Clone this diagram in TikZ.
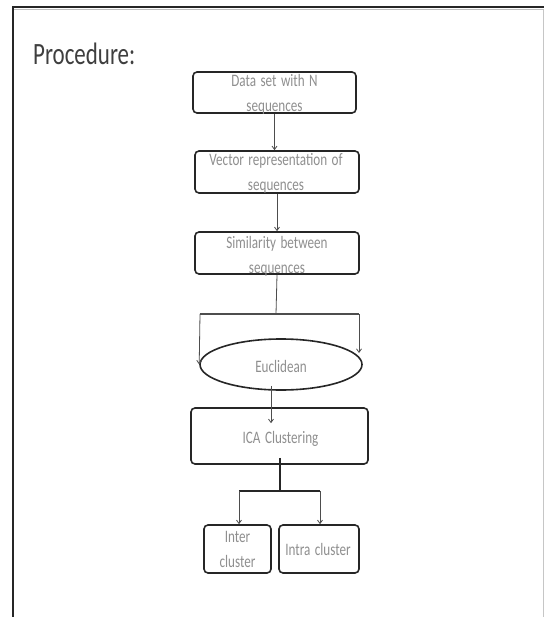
\documentclass[tikz,border=0pt]{standalone}
\usepackage{fontspec}
\setmainfont{Carlito}
\newfontfamily\cf[FakeStretch=0.75,WordSpace=1.5]{Carlito}
\newfontfamily\cft[FakeStretch=0.74]{Carlito}
\usetikzlibrary{shapes.geometric,arrows.meta,calc}
\definecolor{edgec}{HTML}{262626}
\definecolor{linec}{HTML}{4d4d4d}
\definecolor{txtc}{HTML}{8f8f8f}
\definecolor{titc}{HTML}{3f3f3f}
\tikzset{
  boxn/.style={draw=edgec,line width=1.6pt,rounded corners=4pt,inner sep=0pt,fill=none},
  ellnode/.style={ellipse,draw=edgec,line width=1.6pt,inner sep=0pt},
  txt/.style={align=center,inner sep=0pt,text=txtc,font=\cf\fontsize{17.5}{25}\selectfont},
  conn/.style={draw=linec,line width=0.8pt},
  arr/.style={conn,-{Straight Barb[length=3.5pt,width=5pt]}},
  thick conn/.style={draw=edgec,line width=1.6pt}
}
\begin{document}
\begin{tikzpicture}[x=1pt,y=-1pt]
\useasboundingbox (0,0) rectangle (544,617);
\fill[white] (0,0) rectangle (544,617);
% frame
\draw[gray!45,line width=1pt] (543,9) -- (543,617);
\draw[gray!50,line width=1pt] (14,9.5) -- (544,9.5);
\draw[edgec,line width=2pt] (13,617) -- (13,7.5) -- (544,7.5);
% title
\node[anchor=base west,inner sep=0pt,text=titc,font=\cft\fontsize{31}{36}\selectfont] (title) at (33,65) {Procedure:};
% boxes
\node[boxn,minimum width=163pt,minimum height=41pt] (b1) at (274.5,92.5) {};
\node[txt] (t1) at (274.5,94.5) {Data set with N\\sequences};
\node[boxn,minimum width=164pt,minimum height=42pt] (b2) at (277,172) {};
\node[txt] (t2) at (276,173.5) {Vector representation of\\sequences};
\node[boxn,minimum width=164pt,minimum height=42pt] (b3) at (277,253) {};
\node[txt] (t3) at (277,256.5) {Similarity between\\sequences};
\node[ellnode,minimum width=162pt,minimum height=51pt] (euc) at (281,364.5) {};
\node[txt] (te) at (281,366) {Euclidean};
\node[boxn,minimum width=177pt,minimum height=56pt] (ica) at (279.5,436) {};
\node[txt] (ti) at (280.5,438.5) {ICA Clustering};
\node[boxn,minimum width=67pt,minimum height=48pt] (inter) at (237.5,549) {};
\node[txt] (tin) at (237.5,549) {Inter\\cluster};
\node[boxn,minimum width=80pt,minimum height=48pt] (intra) at (319,549) {};
\node[txt] (tit) at (318,549) {Intra cluster};
% connectors
\draw[arr] (b1.south) -- (b1.south |- b2.north);
\draw[arr] (b2.south) -- (b3.north);
\coordinate (sp) at (276,314);
\coordinate (spl) at (200,314);
\coordinate (spr) at (359,314);
\coordinate (er) at (359,353);
\draw[conn] (b3.south) -- (sp);
\draw[conn,line width=1.1pt] (spl) -- (spr);
\draw[arr] (spl) -- (euc.west);
\draw[arr] (spr) -- (er);
\draw[arr] ($(euc.south)+(-10,-5)$) -- ($(ica.north)+(-8.5,16)$);
\coordinate (tr) at (280,491);
\coordinate (jl) at (239,491);
\coordinate (jr) at (320,491);
\draw[thick conn] ($(ica.south)+(0.5,-7)$) -- (tr);
\draw[thick conn] (jl) -- (jr);
\draw[arr] (jl) -- (jl |- inter.north);
\draw[arr] (jr) -- (jr |- intra.north);
\end{tikzpicture}
\end{document}
